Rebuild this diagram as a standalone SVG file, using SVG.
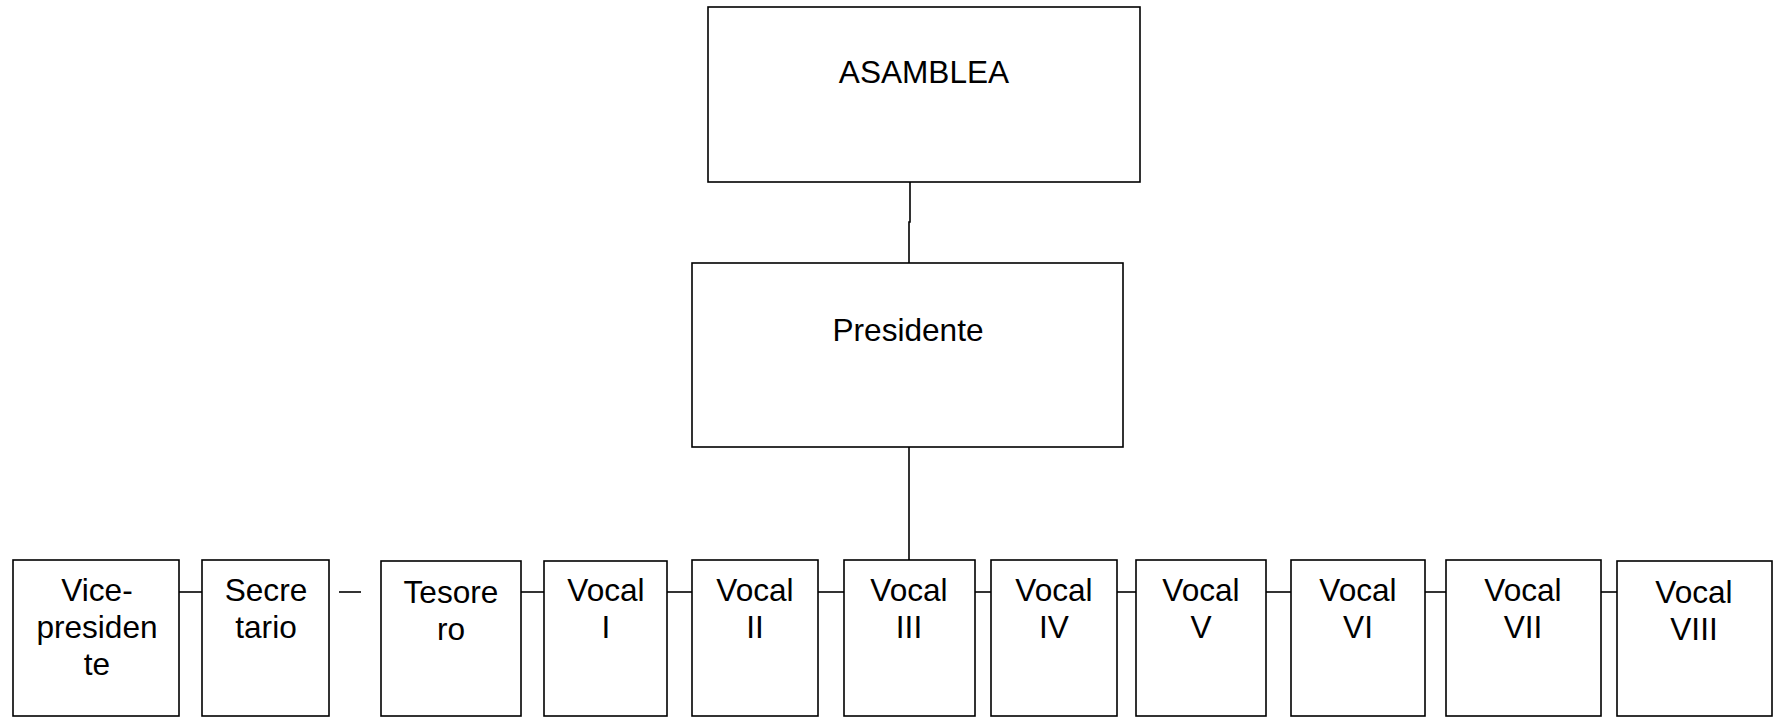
<svg xmlns="http://www.w3.org/2000/svg" width="1778" height="718" viewBox="0 0 1778 718">
<style>
.box{fill:#fff;stroke:#000;stroke-width:1.6}
.lbl{font-family:"Liberation Sans",Arial,sans-serif;font-size:31.6px;fill:#000;text-anchor:middle}
.conn{fill:none;stroke:#000;stroke-width:1.6}
</style>
<rect width="1778" height="718" fill="#fff"/>
<g id="connectors">
<path class="conn" d="M910 182 V222 H909 V263"/>
<path class="conn" d="M909 447 V560"/>
<path class="conn" d="M179 592 H202"/>
<path class="conn" d="M339 592 H361"/>
<path class="conn" d="M521 592 H544"/>
<path class="conn" d="M667 592 H692"/>
<path class="conn" d="M818 592 H844"/>
<path class="conn" d="M975 592 H991"/>
<path class="conn" d="M1117 592 H1136"/>
<path class="conn" d="M1266 592 H1291"/>
<path class="conn" d="M1425 592 H1446"/>
<path class="conn" d="M1601 592 H1617"/>
</g>
<g id="asamblea"><rect class="box" x="708" y="7" width="432" height="175"/><text class="lbl" x="924" y="83">ASAMBLEA</text></g>
<g id="presidente"><rect class="box" x="692" y="263" width="431" height="184"/><text class="lbl" x="908" y="341">Presidente</text></g>
<g id="vicepresidente"><rect class="box" x="13" y="560" width="166" height="156"/><text class="lbl" x="97" y="601">Vice-</text><text class="lbl" x="97" y="638">presiden</text><text class="lbl" x="97" y="675">te</text></g>
<g id="secretario"><rect class="box" x="202" y="560" width="127" height="156"/><text class="lbl" x="266" y="601">Secre</text><text class="lbl" x="266" y="638">tario</text></g>
<g id="tesorero"><rect class="box" x="381" y="561" width="140" height="155"/><text class="lbl" x="451" y="603">Tesore</text><text class="lbl" x="451" y="640">ro</text></g>
<g id="vocal1"><rect class="box" x="544" y="561" width="123" height="155"/><text class="lbl" x="606" y="601">Vocal</text><text class="lbl" x="606" y="638">I</text></g>
<g id="vocal2"><rect class="box" x="692" y="560" width="126" height="156"/><text class="lbl" x="755" y="601">Vocal</text><text class="lbl" x="755" y="638">II</text></g>
<g id="vocal3"><rect class="box" x="844" y="560" width="131" height="156"/><text class="lbl" x="909" y="601">Vocal</text><text class="lbl" x="909" y="638">III</text></g>
<g id="vocal4"><rect class="box" x="991" y="560" width="126" height="156"/><text class="lbl" x="1054" y="601">Vocal</text><text class="lbl" x="1054" y="638">IV</text></g>
<g id="vocal5"><rect class="box" x="1136" y="560" width="130" height="156"/><text class="lbl" x="1201" y="601">Vocal</text><text class="lbl" x="1201" y="638">V</text></g>
<g id="vocal6"><rect class="box" x="1291" y="560" width="134" height="156"/><text class="lbl" x="1358" y="601">Vocal</text><text class="lbl" x="1358" y="638">VI</text></g>
<g id="vocal7"><rect class="box" x="1446" y="560" width="155" height="156"/><text class="lbl" x="1523" y="601">Vocal</text><text class="lbl" x="1523" y="638">VII</text></g>
<g id="vocal8"><rect class="box" x="1617" y="561" width="155" height="155"/><text class="lbl" x="1694" y="603">Vocal</text><text class="lbl" x="1694" y="640">VIII</text></g>
</svg>
